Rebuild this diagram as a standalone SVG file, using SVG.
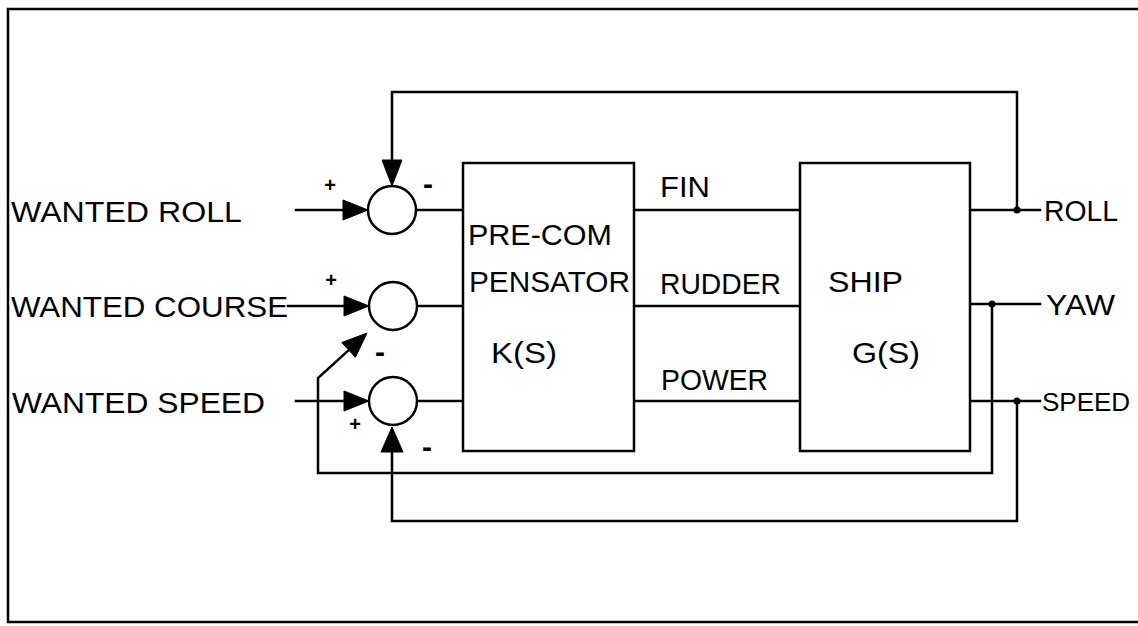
<svg xmlns="http://www.w3.org/2000/svg" width="1138" height="626" viewBox="0 0 1138 626">
<style>
  .ln{fill:none;stroke:#000;stroke-width:2.5;stroke-linejoin:miter;stroke-linecap:square}
  .box{fill:#fff;stroke:#000;stroke-width:2.5}
  .sum{fill:#fff;stroke:#000;stroke-width:2.5}
  .ah{fill:#000;stroke:#000;stroke-width:1}
  .t{font-family:"Liberation Sans",Arial,sans-serif;font-size:30px;fill:#000}
  .s{font-family:"Liberation Sans",Arial,sans-serif;font-size:20px;font-weight:bold;fill:#000;text-anchor:middle}
  .m{font-family:"Liberation Sans",Arial,sans-serif;font-size:30px;font-weight:bold;fill:#000;text-anchor:middle}
  .dot{fill:#000}
</style>
<rect width="1138" height="626" fill="#fff"/>
<g id="frame">
  <path class="ln" d="M1138,9 H8 V622 H1138"/>
</g>
<g id="connectors">
  <path class="ln" d="M296,210 H345"/>
  <polygon class="ah" points="343,200 368,210 343,220"/>
  <path class="ln" d="M288,306 H346"/>
  <polygon class="ah" points="344,296 369,306 344,316"/>
  <path class="ln" d="M296,401 H346"/>
  <polygon class="ah" points="344,391 369,401 344,411"/>
  <path class="ln" d="M416,210 H463"/>
  <path class="ln" d="M417,306 H463"/>
  <path class="ln" d="M417,401 H463"/>
  <path class="ln" d="M634,210 H800"/>
  <path class="ln" d="M634,306 H800"/>
  <path class="ln" d="M634,401 H800"/>
  <path class="ln" d="M970,210 H1040"/>
  <path class="ln" d="M970,304 H1040"/>
  <path class="ln" d="M970,401 H1040"/>
  <path class="ln" d="M1017,210 V92 H392 V162"/>
  <polygon class="ah" points="382,160 392,186 402,160"/>
  <path class="ln" d="M992,304 V473 H318 V378 L350,349"/>
  <polygon class="ah" points="367,333 341.8,342.5 355.4,357.3"/>
  <path class="ln" d="M1017,401 V521 H392 V450"/>
  <polygon class="ah" points="381,452 392,427 403,452"/>
  <circle class="dot" cx="1017" cy="210" r="3.5"/>
  <circle class="dot" cx="992" cy="304" r="3.5"/>
  <circle class="dot" cx="1017" cy="401" r="3.5"/>
</g>
<g id="sum-roll">
  <circle class="sum" cx="392" cy="210" r="24"/>
  <text class="s" x="330" y="192">+</text>
  <text class="m" x="428" y="194">-</text>
</g>
<g id="sum-course">
  <circle class="sum" cx="393" cy="306" r="24"/>
  <text class="s" x="331" y="287">+</text>
  <text class="m" x="380" y="362">-</text>
</g>
<g id="sum-speed">
  <circle class="sum" cx="393" cy="401" r="24"/>
  <text class="s" x="355" y="431">+</text>
  <text class="m" x="427" y="457">-</text>
</g>
<g id="precompensator">
  <rect class="box" x="463" y="163" width="171" height="288"/>
  <text class="t" x="468" y="245" textLength="144" lengthAdjust="spacingAndGlyphs">PRE-COM</text>
  <text class="t" x="469" y="292" textLength="161" lengthAdjust="spacingAndGlyphs">PENSATOR</text>
  <text class="t" x="491" y="363" textLength="66" lengthAdjust="spacingAndGlyphs">K(S)</text>
</g>
<g id="ship">
  <rect class="box" x="800" y="163" width="170" height="288"/>
  <text class="t" x="828" y="292" textLength="75" lengthAdjust="spacingAndGlyphs">SHIP</text>
  <text class="t" x="852" y="363" textLength="68" lengthAdjust="spacingAndGlyphs">G(S)</text>
</g>
<g id="labels">
  <text class="t" x="11" y="222" textLength="231" lengthAdjust="spacingAndGlyphs">WANTED ROLL</text>
  <text class="t" x="11" y="317" textLength="277" lengthAdjust="spacingAndGlyphs">WANTED COURSE</text>
  <text class="t" x="12" y="413" textLength="253" lengthAdjust="spacingAndGlyphs">WANTED SPEED</text>
  <text class="t" x="660" y="197" textLength="50" lengthAdjust="spacingAndGlyphs">FIN</text>
  <text class="t" x="660" y="294" textLength="121" lengthAdjust="spacingAndGlyphs">RUDDER</text>
  <text class="t" x="661" y="390" textLength="107" lengthAdjust="spacingAndGlyphs">POWER</text>
  <text class="t" x="1044" y="221" textLength="74" lengthAdjust="spacingAndGlyphs">ROLL</text>
  <text class="t" x="1046" y="315" textLength="69" lengthAdjust="spacingAndGlyphs">YAW</text>
  <text class="t" x="1042" y="411" style="font-size:26px">SPEED</text>
</g>
</svg>
